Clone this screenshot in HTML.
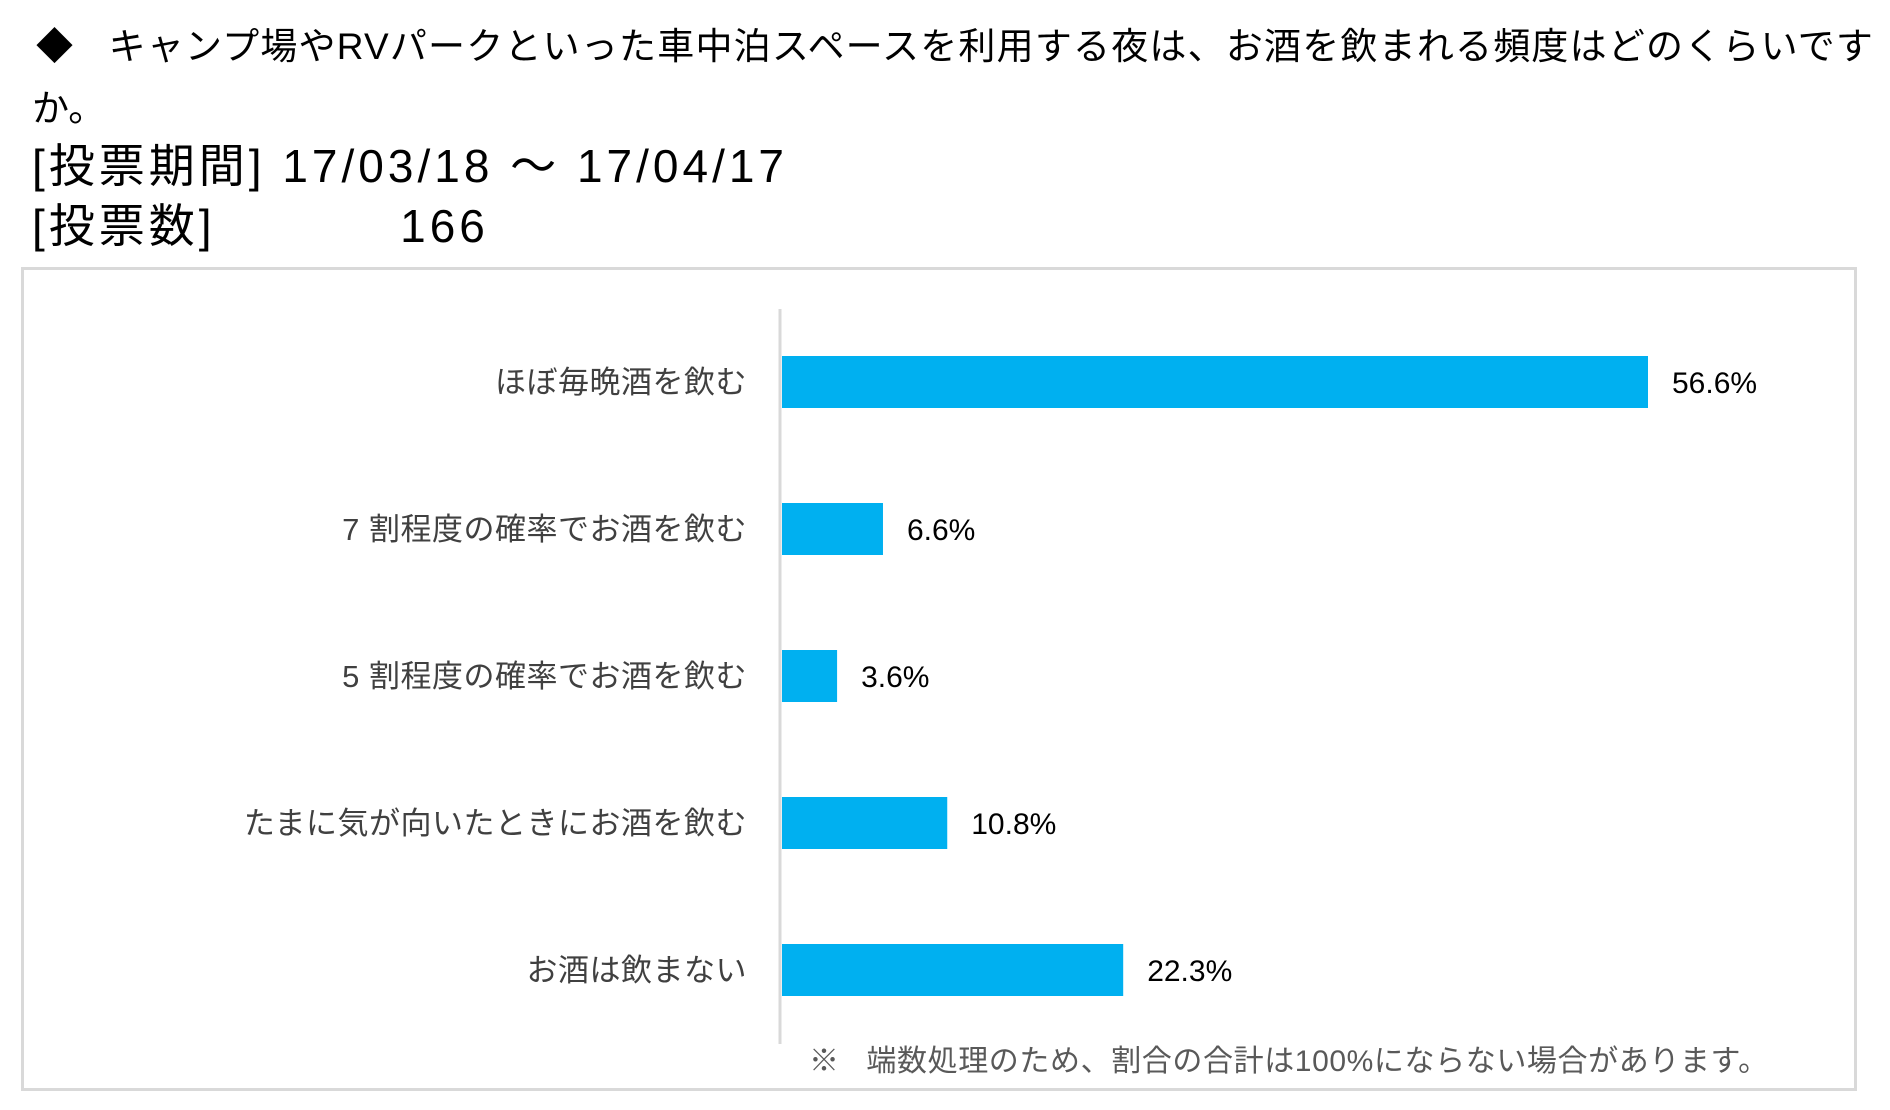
<!DOCTYPE html>
<html><head><meta charset="utf-8"><style>
body{margin:0;width:1890px;height:1110px;background:#fff;overflow:hidden;font-family:"Liberation Sans","Noto Sans CJK JP",sans-serif;color:#000;position:relative}
.t{position:absolute;white-space:nowrap}
</style></head><body>
<div class="t" style="left:36px;top:16px;font-size:37px;letter-spacing:1.2px;">◆&nbsp;&nbsp; キャンプ場やRVパークといった車中泊スペースを利用する夜は、お酒を飲まれる頻度はどのくらいです</div>
<div class="t" style="left:32px;top:78px;font-size:37px;">か。</div>
<div class="t" style="left:32px;top:130px;font-size:46px;letter-spacing:4px;">[投票期間] 17/03/18 ～ 17/04/17</div>
<div class="t" style="left:32px;top:190px;font-size:46px;letter-spacing:4px;">[投票数]&nbsp;&nbsp;&nbsp;&nbsp;&nbsp;&nbsp;&nbsp;&nbsp;&nbsp;&nbsp; 166</div>
<div style="position:absolute;left:21px;top:267px;width:1830px;height:818px;border:3px solid #d9d9d9;"></div>
<svg id="chart" width="1890" height="1110" style="position:absolute;left:0;top:0"></svg>
<div class="t" style="left:809px;top:1036px;font-size:30px;letter-spacing:0.6px;color:#595959;">※&nbsp;&nbsp; 端数処理のため、割合の合計は100%にならない場合があります。</div>
<script>
const categories=["ほぼ毎晩酒を飲む","7 割程度の確率でお酒を飲む","5 割程度の確率でお酒を飲む","たまに気が向いたときにお酒を飲む","お酒は飲まない"];
const values=[56.6,6.6,3.6,10.8,22.3];
const valueLabels=["56.6%","6.6%","3.6%","10.8%","22.3%"];
const svg=document.getElementById('chart');
const NS='http://www.w3.org/2000/svg';
const x0=782, pxPerPct=(1648-782)/56.6;
const yTop=309, band=147, barH=52;
function xs(v){return x0+v*pxPerPct;}
function yc(i){return 382+i*band;}
const ax=document.createElementNS(NS,'line');


ax.setAttribute('x1',780);ax.setAttribute('x2',780);ax.setAttribute('y1',yTop);ax.setAttribute('y2',1044);
ax.setAttribute('stroke','#d9d9d9');ax.setAttribute('stroke-width','3');
svg.appendChild(ax);
categories.forEach((c,i)=>{
  const r=document.createElementNS(NS,'rect');
  
  
  r.setAttribute('x',x0);r.setAttribute('y',yc(i)-barH/2);
  r.setAttribute('width',xs(values[i])-x0);r.setAttribute('height',barH);
  r.setAttribute('fill','#00b0f0');
  svg.appendChild(r);
  const l=document.createElementNS(NS,'text');
  
  
  l.setAttribute('x',747);l.setAttribute('y',yc(i)+11);
  l.setAttribute('text-anchor','end');l.setAttribute('font-size','31');
  l.setAttribute('letter-spacing','0.5');
  l.setAttribute('fill','#404040');
  l.textContent=c;svg.appendChild(l);
  const v=document.createElementNS(NS,'text');
  
  
  v.setAttribute('x',xs(values[i])+24);v.setAttribute('y',yc(i)+11);
  v.setAttribute('font-size','30');v.setAttribute('fill','#000');
  v.textContent=valueLabels[i];svg.appendChild(v);
});
</script>
</body></html>
